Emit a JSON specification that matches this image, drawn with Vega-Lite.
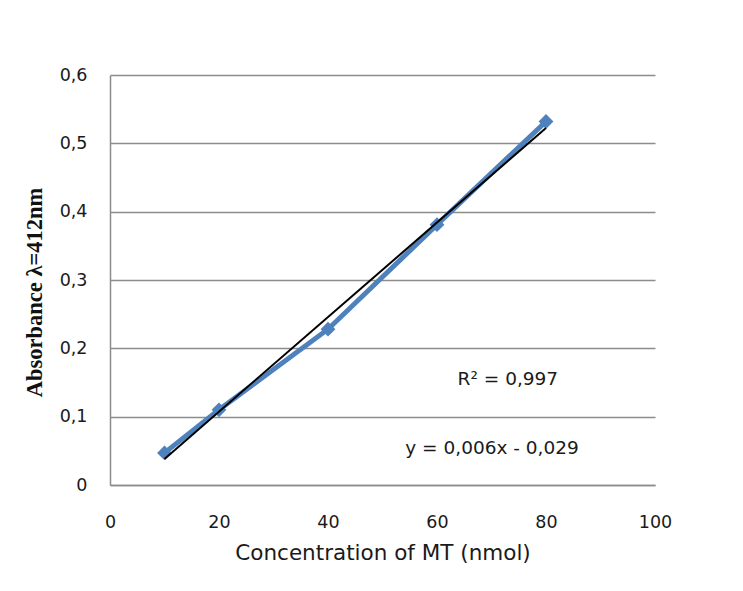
{
  "$schema": "https://vega.github.io/schema/vega-lite/v6.json",
  "width": 545,
  "height": 410,
  "autosize": {"type": "none"},
  "padding": {"left": 110, "top": 75, "right": 88, "bottom": 106},
  "background": "white",
  "config": {
    "view": {"stroke": null},
    "font": "DejaVu Sans"
  },
  "datasets": {
    "pts": [
      {"conc": 10, "abs": 0.047},
      {"conc": 20, "abs": 0.11},
      {"conc": 40, "abs": 0.228},
      {"conc": 60, "abs": 0.381},
      {"conc": 80, "abs": 0.532}
    ],
    "notes": [
      {"conc": 73.0, "abs": 0.155, "label": "R² = 0,997"},
      {"conc": 70.1, "abs": 0.054, "label": "y = 0,006x - 0,029"}
    ]
  },
  "layer": [
    {
      "data": {"name": "pts"},
      "mark": {"type": "line", "color": "#4F81BD", "strokeWidth": 5},
      "encoding": {
        "x": {
          "field": "conc", "type": "quantitative",
          "scale": {"domain": [0, 100], "nice": false},
          "axis": {
            "values": [0, 20, 40, 60, 80, 100],
            "grid": false, "ticks": false,
            "domainColor": "#8c8c8c", "domainWidth": 1.5,
            "labelFontSize": 17.5, "labelColor": "#1a1a1a", "labelPadding": 28,
            "labelFlush": false,
            "title": "Concentration  of MT (nmol)",
            "titleFontSize": 21.5, "titleFontWeight": "normal", "titleColor": "#1a1a1a",
            "titlePadding": 12
          }
        },
        "y": {
          "field": "abs", "type": "quantitative",
          "scale": {"domain": [0, 0.6], "nice": false},
          "axis": {
            "values": [0, 0.1, 0.2, 0.3, 0.4, 0.5, 0.6],
            "labelExpr": "datum.value == 0 ? '0' : replace(format(datum.value, '.1f'), '.', ',')",
            "grid": true, "gridColor": "#8c8c8c", "gridWidth": 1.5,
            "ticks": false,
            "domainColor": "#8c8c8c", "domainWidth": 1.5,
            "labelFontSize": 17.5, "labelColor": "#1a1a1a", "labelPadding": 23,
            "title": "Absorbance λ=412nm",
            "titleFont": "Liberation Serif", "titleFontSize": 22.5, "titleFontWeight": "bold",
            "titleColor": "#111", "titlePadding": 13, "titleY": 217
          }
        }
      }
    },
    {
      "data": {"name": "pts"},
      "mark": {"type": "point", "shape": "diamond", "filled": true, "color": "#4F81BD", "size": 220, "opacity": 1},
      "encoding": {
        "x": {"field": "conc", "type": "quantitative"},
        "y": {"field": "abs", "type": "quantitative"}
      }
    },
    {
      "data": {"name": "pts"},
      "transform": [{"regression": "abs", "on": "conc", "extent": [10, 80]}],
      "mark": {"type": "line", "color": "#000000", "strokeWidth": 2},
      "encoding": {
        "x": {"field": "conc", "type": "quantitative"},
        "y": {"field": "abs", "type": "quantitative"}
      }
    },
    {
      "data": {"name": "notes"},
      "mark": {"type": "text", "fontSize": 18.5, "color": "#1a1a1a", "align": "center", "baseline": "middle"},
      "encoding": {
        "x": {"field": "conc", "type": "quantitative"},
        "y": {"field": "abs", "type": "quantitative"},
        "text": {"field": "label"}
      }
    }
  ]
}
